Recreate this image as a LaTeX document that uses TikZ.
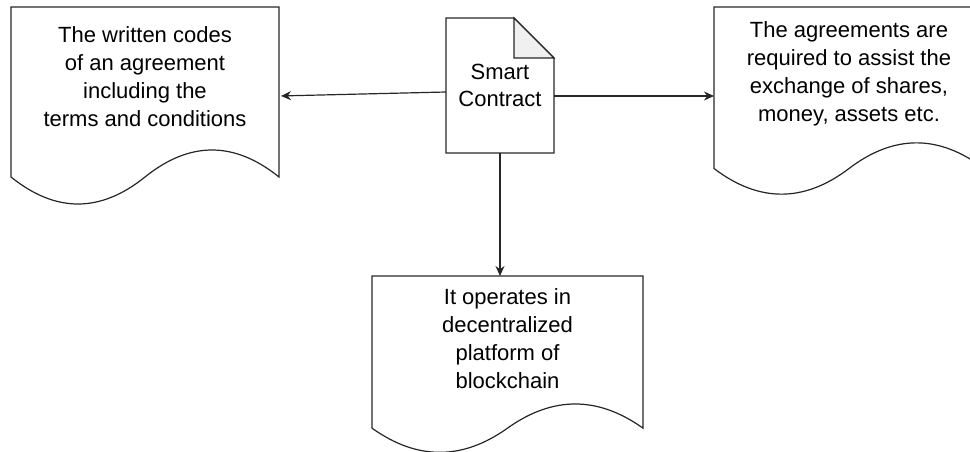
\documentclass[tikz,border=0pt]{standalone}
\usepackage{fontspec}
\setmainfont{Liberation Sans}
\usetikzlibrary{arrows.meta,calc}

\begin{document}
\begin{tikzpicture}[x=1pt,y=-1pt,
  docbox/.style={inner sep=0pt, outer sep=0pt},
  doctext/.style={align=center, anchor=center, inner sep=0pt, font=\fontsize{22}{28}\selectfont},
  docline/.style={draw=black!85, line width=1.2pt},
  arrowline/.style={-{Stealth[length=10pt,width=9pt]}, draw=black!85, line width=1.2pt}]

\useasboundingbox (0,0) rectangle (970,452);

      \draw (500,85.5) node[docbox, doctext, minimum width=108pt, minimum height=135pt, font=\fontsize{22}{27}\selectfont] (contract) {Smart\\Contract};
  \draw (145,107) node[docbox, minimum width=268pt, minimum height=200pt,
    label={[doctext,yshift=-70pt]north:{The written codes\\of an agreement\\including the\\terms and conditions}}] (codes) {};
  \draw (849,102) node[docbox, minimum width=270pt, minimum height=190pt,
    label={[doctext,yshift=-66.5pt]north:{The agreements are\\required to assist the\\exchange of shares,\\money, assets etc.}}] (exchange) {};
      \draw (507.5,365.5) node[docbox, minimum width=271pt, minimum height=179pt,
    label={[doctext,yshift=-62.7pt]north:{It operates in\\decentralized\\platform of\\blockchain}}] (platform) {};

  % contract sheet with folded corner
  \draw[docline] (contract.north west) -- ([xshift=-40pt]contract.north east) -- ([yshift=-40pt]contract.north east)
    -- (contract.south east) -- (contract.south west) -- cycle;
  \draw[docline, fill=gray!12] ([xshift=-40pt]contract.north east) -- ([xshift=-40pt,yshift=-40pt]contract.north east)
    -- ([yshift=-40pt]contract.north east) -- cycle;

  % wavy documents
  \foreach \doc in {codes,exchange,platform}
    \draw[docline] let \p1=(\doc.north west), \p2=(\doc.south east), \n1={\x2-\x1}, \n2={\y1-\y2} in
      (\p1) -- (\x2,\y1) -- (\x2,{\y1-0.85*\n2})
      .. controls ({\x1+0.8333*\n1},{\y1-0.67*\n2}) and ({\x1+0.6667*\n1},{\y1-0.67*\n2}) .. ({\x1+0.5*\n1},{\y1-0.85*\n2})
      .. controls ({\x1+0.3333*\n1},{\y1-1.03*\n2}) and ({\x1+0.1667*\n1},{\y1-1.03*\n2}) .. (\x1,{\y1-0.85*\n2}) -- cycle;

      \path ([yshift=-6.5pt]contract.west) edge[arrowline, shorten >=2pt] ([yshift=11pt]codes.east);
      \path ([yshift=-10.5pt]contract.east) edge[arrowline] ([yshift=6pt]exchange.west);
      \path (contract.south) edge[arrowline] (contract.south |- platform.north);
\end{tikzpicture}
\end{document}
